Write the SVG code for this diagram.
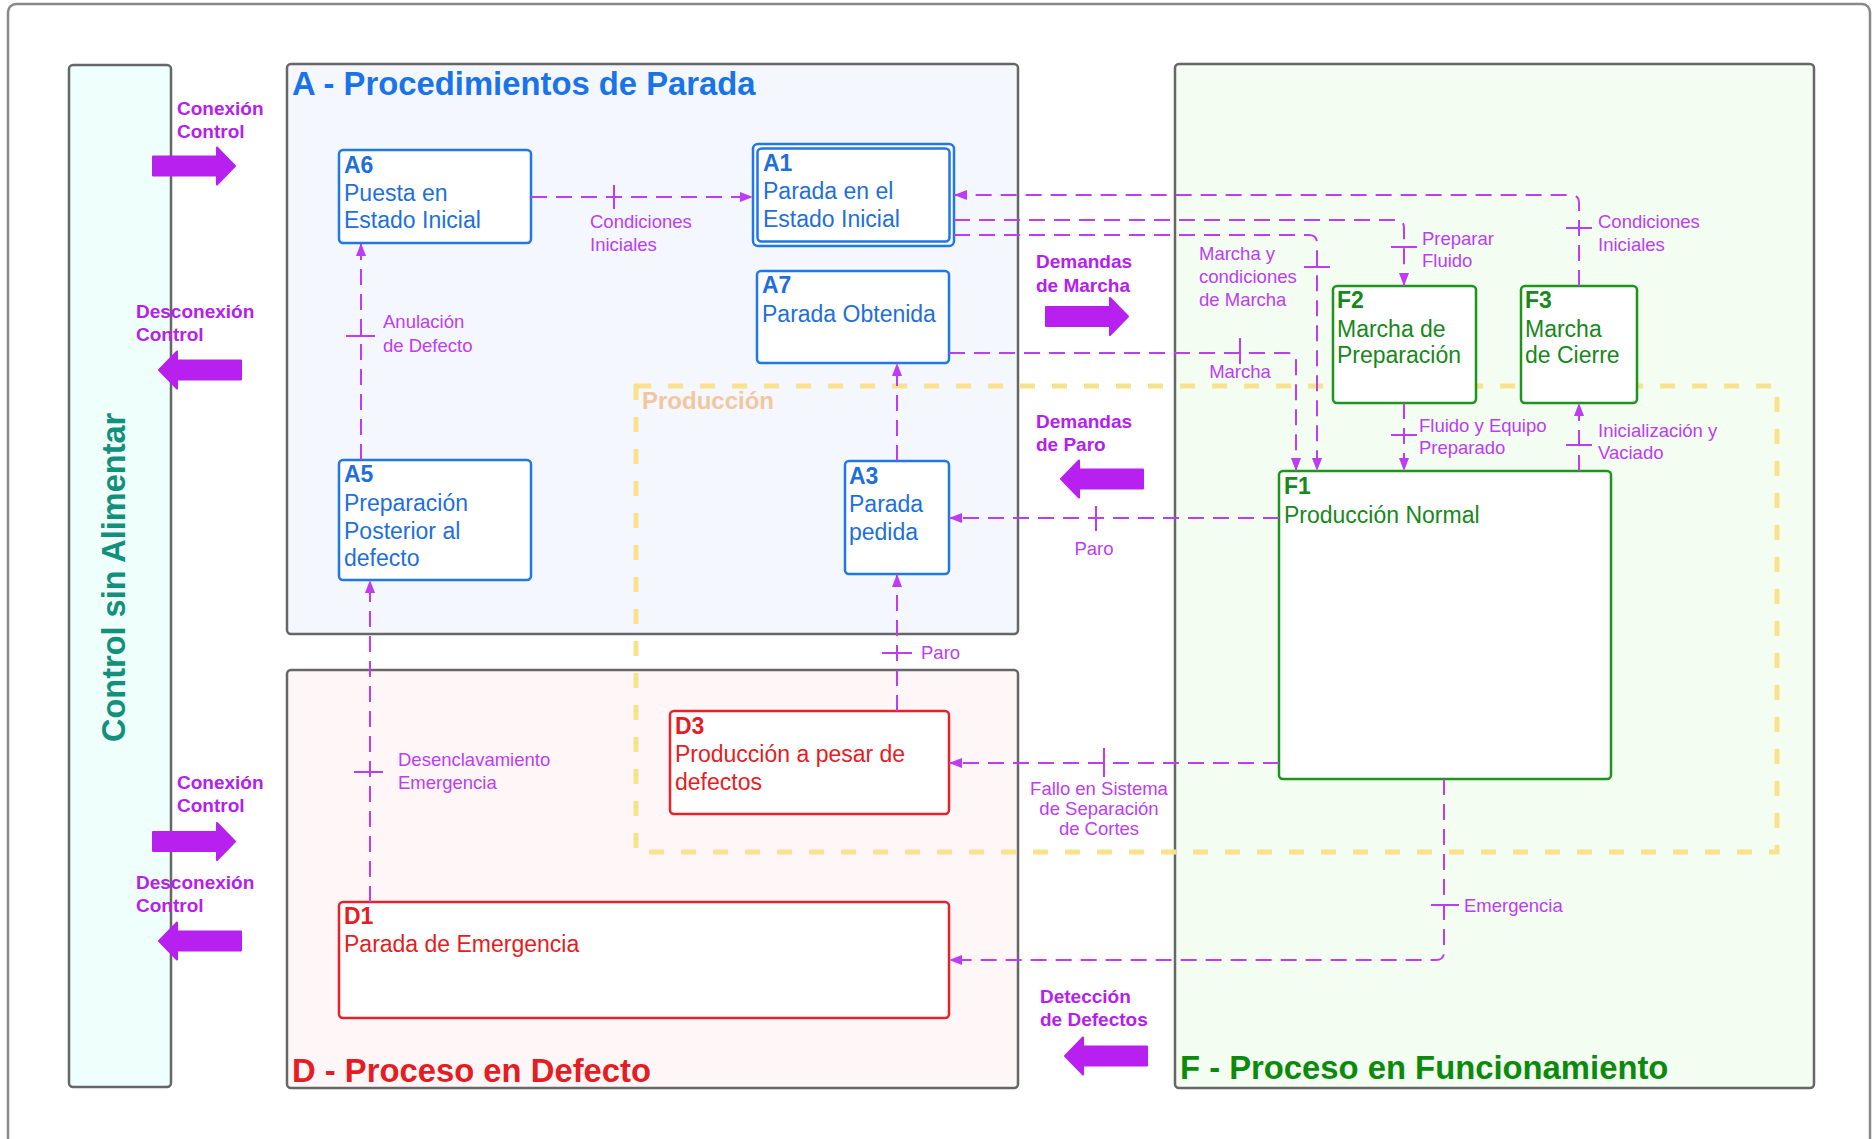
<svg xmlns="http://www.w3.org/2000/svg" width="1875" height="1139" viewBox="0 0 1875 1139">
<style>
text{font-family:"Liberation Sans",Arial,sans-serif}
.cont{stroke:#666;stroke-width:2.5}
.nb{fill:#fff;stroke:#1f78e6;stroke-width:2.5}
.nr{fill:#fff;stroke:#e8202a;stroke-width:2.5}
.ng{fill:#fff;stroke:#1d951d;stroke-width:2.5}
.tb{fill:#1e6fdc;font-size:23px}
.tr{fill:#e51d23;font-size:23px}
.tg{fill:#17881a;font-size:23px}
.b{font-weight:bold}
.con{fill:none;stroke:#bd3cf4;stroke-width:2;stroke-dasharray:16 9}
.tick{stroke:#bd3cf4;stroke-width:2}
.lbl{fill:#bd3cf4;font-size:18.5px}
.bl{fill:#b520ef;font-size:19px;font-weight:bold}
.title{font-size:32.8px;font-weight:bold}
.fat{fill:#b820f0;stroke:#b820f0;stroke-width:2;stroke-linejoin:round}
</style>
<defs>
<marker id="ah" markerUnits="userSpaceOnUse" viewBox="0 0 13 10" refX="13" refY="5" markerWidth="13" markerHeight="10" orient="auto">
<path d="M0,0 L13,5 L0,10 Z" fill="#bd3cf4"/>
</marker>
<path id="fatR" d="M0,-9.5 H64 V-18.5 L82,0 L64,18.5 V9.5 H0 Z"/>
</defs>

<rect x="8" y="4" width="1862" height="1200" rx="8" fill="#fff" stroke="#888" stroke-width="2.5"/>

<g id="control-sin-alimentar">
<rect class="cont" x="69" y="65" width="102" height="1022" rx="4" fill="#effffc"/>
<text class="b" transform="translate(125,742) rotate(-90)" font-size="32.5" fill="#11907a">Control sin Alimentar</text>
</g>

<g id="A">
<rect class="cont" x="287" y="64" width="731" height="570" rx="4" fill="#f4f7fe"/>
<text class="title" x="292" y="95" fill="#1a73e8">A - Procedimientos de Parada</text>
</g>
<g id="D">
<rect class="cont" x="287" y="670" width="731" height="418" rx="4" fill="#fff7f7"/>
<text class="title" x="292" y="1082" fill="#e51d23">D - Proceso en Defecto</text>
</g>
<g id="F">
<rect class="cont" x="1175" y="64" width="639" height="1024" rx="4" fill="#f3fdf2"/>
<text class="title" x="1180" y="1079" fill="#0c8a0c">F - Proceso en Funcionamiento</text>
</g>

<g id="produccion">
<rect x="636" y="386" width="1141" height="466" fill="none" stroke="#f8e38c" stroke-width="5" stroke-dasharray="15 17"/>
<text class="b" x="642" y="409" font-size="24" fill="#f3c79e">Producción</text>
</g>

<g id="A6">
<rect class="nb" x="339" y="150" width="192" height="93" rx="4"/>
<text class="tb"><tspan class="b" x="344" y="173">A6</tspan><tspan x="344" y="201">Puesta en</tspan><tspan x="344" y="228">Estado Inicial</tspan></text>
</g>
<g id="A1">
<rect class="nb" x="753" y="144" width="201" height="102" rx="5"/>
<rect class="nb" x="757.5" y="148.5" width="192" height="93" rx="4"/>
<text class="tb"><tspan class="b" x="763" y="171">A1</tspan><tspan x="763" y="199">Parada en el</tspan><tspan x="763" y="227">Estado Inicial</tspan></text>
</g>
<g id="A7">
<rect class="nb" x="757" y="271" width="192" height="92" rx="4"/>
<text class="tb"><tspan class="b" x="762" y="293">A7</tspan><tspan x="762" y="322">Parada Obtenida</tspan></text>
</g>
<g id="A5">
<rect class="nb" x="339" y="460" width="192" height="120" rx="4"/>
<text class="tb"><tspan class="b" x="344" y="482">A5</tspan><tspan x="344" y="511">Preparación</tspan><tspan x="344" y="539">Posterior al</tspan><tspan x="344" y="566">defecto</tspan></text>
</g>
<g id="A3">
<rect class="nb" x="845" y="461" width="104" height="113" rx="4"/>
<text class="tb"><tspan class="b" x="849" y="484">A3</tspan><tspan x="849" y="512">Parada</tspan><tspan x="849" y="540">pedida</tspan></text>
</g>
<g id="D3">
<rect class="nr" x="670" y="711" width="279" height="103" rx="4"/>
<text class="tr"><tspan class="b" x="675" y="734">D3</tspan><tspan x="675" y="762">Producción a pesar de</tspan><tspan x="675" y="790">defectos</tspan></text>
</g>
<g id="D1">
<rect class="nr" x="339" y="902" width="610" height="116" rx="4"/>
<text class="tr"><tspan class="b" x="344" y="924">D1</tspan><tspan x="344" y="952">Parada de Emergencia</tspan></text>
</g>
<g id="F2">
<rect class="ng" x="1333" y="286" width="143" height="117" rx="4"/>
<text class="tg"><tspan class="b" x="1337" y="308">F2</tspan><tspan x="1337" y="337">Marcha de</tspan><tspan x="1337" y="363">Preparación</tspan></text>
</g>
<g id="F3">
<rect class="ng" x="1521" y="286" width="116" height="117" rx="4"/>
<text class="tg"><tspan class="b" x="1525" y="308">F3</tspan><tspan x="1525" y="337">Marcha</tspan><tspan x="1525" y="363">de Cierre</tspan></text>
</g>
<g id="F1">
<rect class="ng" x="1279" y="471" width="332" height="308" rx="4"/>
<text class="tg"><tspan class="b" x="1284" y="494">F1</tspan><tspan x="1284" y="523">Producción Normal</tspan></text>
</g>

<g id="connectors">
<path class="con" d="M531,197 H753" marker-end="url(#ah)"/>
<line class="tick" x1="614" y1="185" x2="614" y2="209"/>
<text class="lbl"><tspan x="590" y="228">Condiciones</tspan><tspan x="590" y="251">Iniciales</tspan></text>

<path class="con" d="M1579,286 V203 Q1579,195 1571,195 H954" marker-end="url(#ah)"/>
<line class="tick" x1="1566" y1="228" x2="1592" y2="228"/>
<text class="lbl"><tspan x="1598" y="228">Condiciones</tspan><tspan x="1598" y="251">Iniciales</tspan></text>

<path class="con" d="M954,220 H1396 Q1404,220 1404,228 V286" marker-end="url(#ah)"/>
<line class="tick" x1="1391" y1="247" x2="1417" y2="247"/>
<text class="lbl"><tspan x="1422" y="245">Preparar</tspan><tspan x="1422" y="267">Fluido</tspan></text>

<path class="con" d="M954,235 H1309 Q1317,235 1317,243 V471" marker-end="url(#ah)"/>
<line class="tick" x1="1304" y1="267" x2="1330" y2="267"/>
<text class="lbl"><tspan x="1199" y="260">Marcha y</tspan><tspan x="1199" y="283">condiciones</tspan><tspan x="1199" y="306">de Marcha</tspan></text>

<path class="con" d="M949,353 H1288 Q1296,353 1296,361 V471" marker-end="url(#ah)"/>
<line class="tick" x1="1240" y1="338" x2="1240" y2="364"/>
<text class="lbl" x="1240" y="378" text-anchor="middle">Marcha</text>

<path class="con" d="M1404,403 V471" marker-end="url(#ah)"/>
<line class="tick" x1="1391" y1="435" x2="1417" y2="435"/>
<text class="lbl"><tspan x="1419" y="432">Fluido y Equipo</tspan><tspan x="1419" y="454">Preparado</tspan></text>

<path class="con" d="M1579,471 V403" marker-end="url(#ah)"/>
<line class="tick" x1="1566" y1="445" x2="1592" y2="445"/>
<text class="lbl"><tspan x="1598" y="437">Inicialización y</tspan><tspan x="1598" y="459">Vaciado</tspan></text>

<path class="con" d="M1279,518 H949" marker-end="url(#ah)"/>
<line class="tick" x1="1096" y1="506" x2="1096" y2="531"/>
<text class="lbl" x="1094" y="555" text-anchor="middle">Paro</text>

<path class="con" d="M897,461 V363" marker-end="url(#ah)"/>

<path class="con" d="M897,711 V574" marker-end="url(#ah)"/>
<line class="tick" x1="882" y1="653" x2="912" y2="653"/>
<text class="lbl" x="921" y="659">Paro</text>

<path class="con" d="M1279,763 H949" marker-end="url(#ah)"/>
<line class="tick" x1="1104" y1="748" x2="1104" y2="777"/>
<text class="lbl" font-size="17.5" text-anchor="middle"><tspan x="1099" y="795">Fallo en Sistema</tspan><tspan x="1099" y="815">de Separación</tspan><tspan x="1099" y="835">de Cortes</tspan></text>

<path class="con" d="M1444,779 V952 Q1444,960 1436,960 H949" marker-end="url(#ah)"/>
<line class="tick" x1="1431" y1="905" x2="1459" y2="905"/>
<text class="lbl" x="1464" y="912">Emergencia</text>

<path class="con" d="M370,902 V580" marker-end="url(#ah)"/>
<line class="tick" x1="354" y1="772" x2="383" y2="772"/>
<text class="lbl"><tspan x="398" y="766">Desenclavamiento</tspan><tspan x="398" y="789">Emergencia</tspan></text>

<path class="con" d="M361,460 V243" marker-end="url(#ah)"/>
<line class="tick" x1="346" y1="336" x2="375" y2="336"/>
<text class="lbl"><tspan x="383" y="328">Anulación</tspan><tspan x="383" y="352">de Defecto</tspan></text>
</g>

<g id="transitions">
<text class="bl"><tspan x="177" y="115">Conexión</tspan><tspan x="177" y="138">Control</tspan></text>
<use href="#fatR" class="fat" transform="translate(153,166)"/>
<text class="bl"><tspan x="136" y="318">Desconexión</tspan><tspan x="136" y="341">Control</tspan></text>
<use href="#fatR" class="fat" transform="translate(241,370) scale(-1,1)"/>
<text class="bl"><tspan x="177" y="789">Conexión</tspan><tspan x="177" y="812">Control</tspan></text>
<use href="#fatR" class="fat" transform="translate(153,841.5)"/>
<text class="bl"><tspan x="136" y="889">Desconexión</tspan><tspan x="136" y="912">Control</tspan></text>
<use href="#fatR" class="fat" transform="translate(241,941) scale(-1,1)"/>
<text class="bl"><tspan x="1036" y="268">Demandas</tspan><tspan x="1036" y="292">de Marcha</tspan></text>
<use href="#fatR" class="fat" transform="translate(1046,316.5)"/>
<text class="bl"><tspan x="1036" y="428">Demandas</tspan><tspan x="1036" y="451">de Paro</tspan></text>
<use href="#fatR" class="fat" transform="translate(1143,479) scale(-1,1)"/>
<text class="bl"><tspan x="1040" y="1003">Detección</tspan><tspan x="1040" y="1026">de Defectos</tspan></text>
<use href="#fatR" class="fat" transform="translate(1147,1056) scale(-1,1)"/>
</g>
</svg>
